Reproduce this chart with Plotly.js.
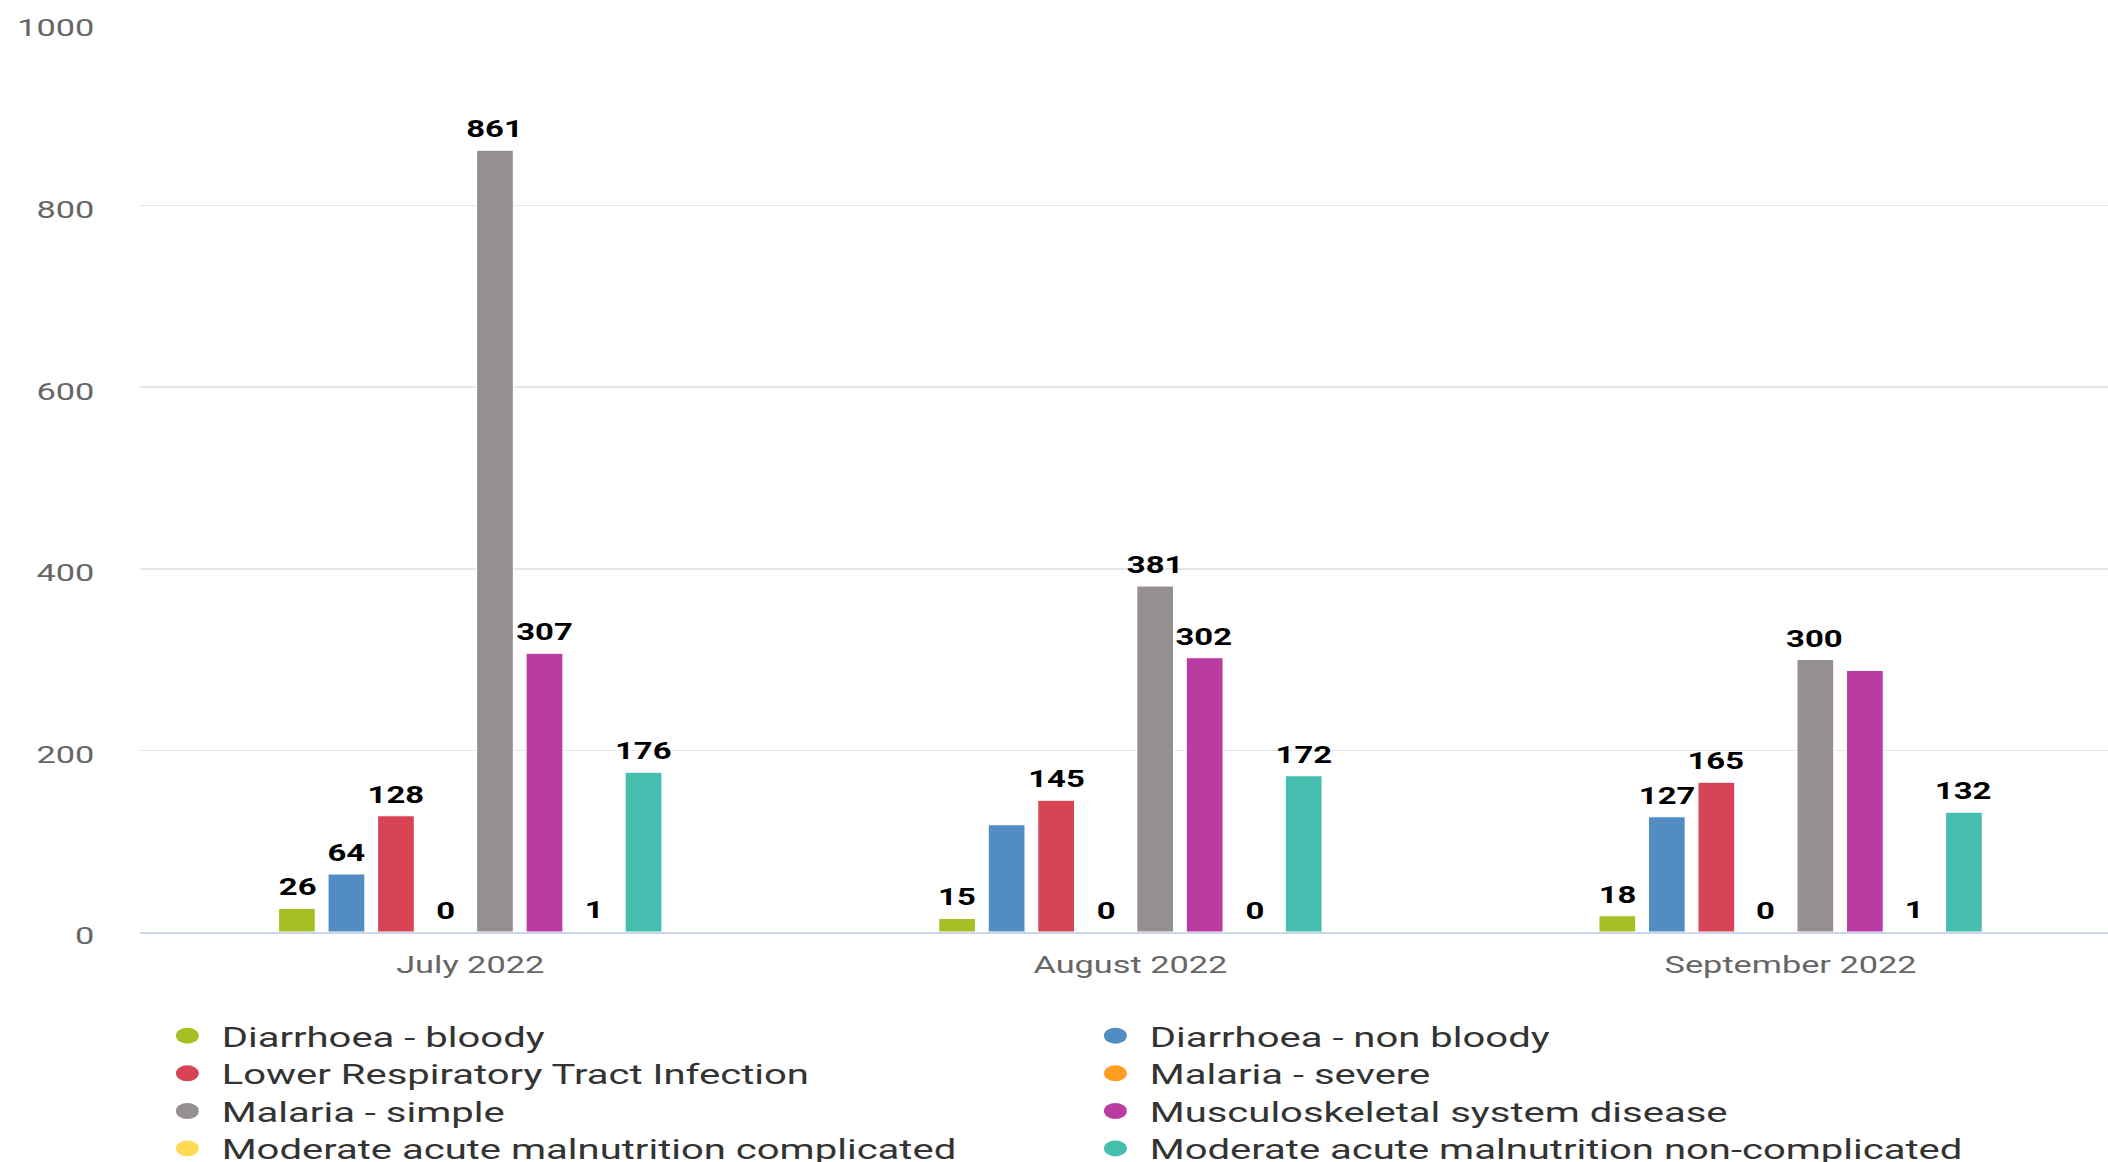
<!DOCTYPE html>
<html>
<head>
<meta charset="utf-8">
<script src="https://cdn.plot.ly/plotly-3.0.1.min.js"></script>
<style>
html,body{margin:0;padding:0;overflow:hidden;width:2108px;height:1162px;background:#ffffff;}
#chart{width:1483px;height:1200px;transform:scaleX(1.43);transform-origin:0 0;}
</style>
</head>
<body>
<div id="chart"></div>
<script>
// ---- data ----
const categories = ["July 2022", "August 2022", "September 2022"];
const seriesNames = [
  "Diarrhoea - bloody",
  "Diarrhoea - non bloody",
  "Lower Respiratory Tract Infection",
  "Malaria - severe",
  "Malaria - simple",
  "Musculoskeletal system disease",
  "Moderate acute malnutrition complicated",
  "Moderate acute malnutrition non-complicated"
];
const seriesColors = ["#a8bf24", "#518cc3", "#d74554", "#ff9e21", "#968f8f", "#ba3ba1", "#ffda54", "#45beae"];
const diarrhoeaBloody = [26, 15, 18];
const diarrhoeaNonBloody = [64, 118, 127];
const lowerRespiratory = [128, 145, 165];
const malariaSevere = [0, 0, 0];
const malariaSimple = [861, 381, 300];
const musculoskeletal = [307, 302, 288];
const mamComplicated = [1, 0, 1];
const mamNonComplicated = [176, 172, 132];
const yTicks = [0, 200, 400, 600, 800, 1000];
// value labels not shown in the original: [seriesIndex, categoryIndex]
const hiddenLabels = [[1, 1], [5, 2]];

const seriesValues = [diarrhoeaBloody, diarrhoeaNonBloody, lowerRespiratory, malariaSevere,
  malariaSimple, musculoskeletal, mamComplicated, mamNonComplicated];

// ---- layout params ----
const S = 1.43;               // horizontal stretch of the original picture
const H = 1200;
const W = 2120 / S;
const BARGAP = 0.4;
const nSeries = seriesValues.length;
const legendIds = ["legend", "legend2", "legend3", "legend4"];
const legendTops = [1011, 1048.6, 1086.3, 1123.7];

const traces = [];
seriesValues.forEach((vals, j) => {
  traces.push({
    type: "bar",
    name: seriesNames[j],
    x: categories,
    y: vals,
    legendgroup: "g" + j,
    showlegend: false,
    marker: {color: seriesColors[j], line: {color: "#ffffff", width: 1}},
    hoverinfo: "skip"
  });
});
seriesValues.forEach((vals, j) => {
  traces.push({
    type: "scatter",
    mode: "markers",
    name: seriesNames[j],
    x: [null], y: [null],
    legendgroup: "g" + j,
    legend: legendIds[Math.floor(j / 2)],
    showlegend: true,
    marker: {color: seriesColors[j], size: 16, symbol: "circle"},
    hoverinfo: "skip"
  });
});

const isHidden = (j, i) => hiddenLabels.some(h => h[0] === j && h[1] === i);
const slot = (1 - BARGAP) / nSeries;
const annotations = [];
seriesValues.forEach((vals, j) => {
  vals.forEach((v, i) => {
    if (isHidden(j, i)) return;
    annotations.push({
      x: i + (j - (nSeries - 1) / 2) * slot,
      y: v,
      xref: "x", yref: "y",
      text: String(v),
      showarrow: false,
      yanchor: "bottom",
      yshift: 5,
      font: {family: "Roboto", size: 23, color: "#000000", weight: 700}
    });
  });
});

const layout = {
  width: W,
  height: H,
  margin: {l: 140 / S, r: 0, t: 24, b: H - 931.7, pad: 0},
  paper_bgcolor: "#ffffff",
  plot_bgcolor: "#ffffff",
  barmode: "group",
  bargap: BARGAP,
  bargroupgap: 0.25,
  showlegend: true,
  hovermode: false,
  font: {family: "Roboto", color: "#666666"},
  xaxis: {
    type: "category",
    range: [-0.5, 2.5],
    showgrid: false,
    zeroline: false,
    showline: true,
    linecolor: "#ccd6eb",
    linewidth: 1.5,
    ticks: "",
    tickfont: {family: "Roboto", size: 24, color: "#666666"},
    ticklabelstandoff: 11,
    fixedrange: true
  },
  yaxis: {
    range: [0, 1000],
    tickvals: yTicks,
    ticktext: yTicks.map(String),
    showgrid: true,
    gridcolor: "#e6e6e6",
    gridwidth: 1.5,
    zeroline: false,
    showline: false,
    ticks: "",
    tickfont: {family: "Roboto", size: 24, color: "#666666"},
    ticklabelstandoff: 31,
    ticklabelshift: 4,
    fixedrange: true
  },
  annotations: annotations
};

legendIds.forEach((id, k) => {
  layout[id] = {
    orientation: "h",
    xref: "container", yref: "container",
    x: 107 / W, xanchor: "left",
    y: 1 - legendTops[k] / H, yanchor: "top",
    entrywidth: 596, entrywidthmode: "pixels",
    itemwidth: 38,
    font: {family: "Roboto", size: 28, color: "#333333"},
    itemclick: false, itemdoubleclick: false,
    bgcolor: "rgba(0,0,0,0)",
    borderwidth: 0
  };
});

Plotly.newPlot("chart", traces, layout, {displayModeBar: false, staticPlot: true});
</script>
</body>
</html>
